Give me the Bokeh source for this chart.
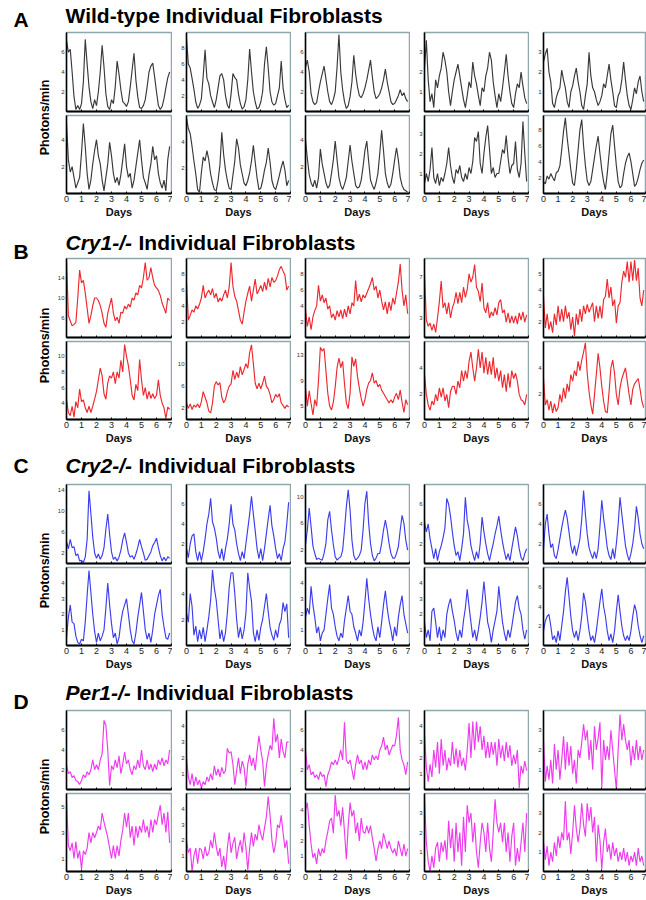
import math
import numpy as np
from bokeh.plotting import figure
from bokeh.layouts import column, row
from bokeh.models import Range1d, FixedTicker, Label
from bokeh.embed import file_html
from bokeh.resources import INLINE

# ---------------- data (photons/min, one value every 3 h) ----------------
STEP_DAYS = 0.125
DAY_TICKS = [0, 1, 2, 3, 4, 5, 6, 7]

# Panel A: wild-type
wt_1 = [7.2, 6.0, 6.3, 4.0, 1.5, 0.2, 0.6, 0.2, 0.8, 3.0, 7.3, 4.8, 2.5, 1.0, 0.3, 1.2,
        0.6, 2.0, 4.0, 6.7, 4.5, 1.8, 0.5, 0.2, 1.2, 0.8, 2.5, 5.1, 3.8, 2.2, 1.0, 0.8,
        0.5, 1.0, 2.5, 4.2, 5.9, 3.2, 1.5, 0.4, 0.3, 0.6, 1.2, 2.5, 4.0, 4.6, 4.9, 3.5,
        2.0, 0.6, 0.2, 0.5, 1.3, 2.4, 3.4, 4.0]
wt_2 = [9.2, 6.0, 5.5, 4.2, 2.8, 1.2, 0.4, 0.8, 1.6, 4.5, 7.8, 4.2, 3.5, 2.0, 1.2, 0.5,
        1.5, 3.0, 4.5, 4.8, 4.0, 2.0, 0.8, 0.4, 2.2, 4.8, 4.3, 4.0, 2.2, 1.0, 0.3, 0.6,
        1.5, 4.0, 7.9, 5.0, 2.5, 1.2, 0.3, 0.5, 1.2, 2.5, 6.0, 8.2, 5.5, 2.5, 1.2, 0.8,
        1.0, 2.0, 3.0, 6.4, 3.0, 1.5, 0.5, 0.8]
wt_3 = [4.5, 5.2, 4.0, 1.8, 1.0, 0.7, 0.9, 2.0, 3.0, 3.8, 4.6, 3.3, 2.0, 1.0, 0.7, 1.2,
        2.0, 4.5, 7.8, 4.0, 2.2, 1.0, 0.3, 0.6, 1.5, 3.0, 5.7, 3.8, 2.5, 1.6, 1.4, 1.8,
        2.4, 3.2, 4.2, 5.2, 3.5, 2.0, 1.3, 1.5, 1.8, 2.4, 3.2, 4.3, 3.0, 2.0, 1.0, 0.7,
        0.8, 1.2, 1.6, 2.2, 1.6, 1.9, 1.3, 1.0]
wt_4 = [2.2, 3.6, 1.6, 0.5, 0.9, 0.2, 1.6, 1.2, 1.8, 2.2, 3.0, 2.6, 2.0, 1.0, 0.3, 1.0,
        1.6, 2.0, 2.4, 1.8, 1.2, 0.6, 0.2, 0.8, 1.5, 1.2, 2.5, 1.8, 1.4, 0.8, 0.3, 1.2,
        1.0, 1.8, 2.2, 3.0, 2.6, 1.5, 0.8, 0.2, 0.9, 0.5, 1.2, 2.0, 2.9, 1.8, 1.0, 0.4,
        0.2, 0.9, 1.4, 1.2, 2.0, 1.3, 0.7, 0.4]
wt_5 = [2.5, 2.9, 3.2, 2.0, 1.5, 0.4, 0.2, 0.7, 1.0, 1.2, 2.1, 1.6, 1.2, 0.5, 0.2, 1.0,
        1.3, 1.8, 2.2, 1.5, 1.0, 0.3, 0.1, 0.8, 1.4, 3.0, 1.8, 1.2, 1.0, 0.6, 0.3, 0.5,
        0.8, 1.4, 1.2, 1.8, 2.4, 1.6, 1.0, 0.3, 0.2, 0.8, 1.0, 1.6, 2.5, 1.6, 0.8, 0.3,
        0.1, 0.6, 1.2, 0.9, 1.5, 1.8, 1.0, 0.5]
wt_6 = [5.2, 2.5, 1.6, 2.0, 1.2, 0.4, 0.8, 1.2, 3.0, 5.2, 3.5, 1.5, 0.3, 1.0, 2.2, 3.2,
        4.0, 2.8, 2.2, 1.0, 0.2, 1.2, 2.2, 3.8, 2.8, 1.5, 0.8, 1.2, 0.6, 1.4, 2.5, 3.7,
        2.0, 1.2, 1.5, 0.4, 1.0, 2.0, 3.0, 4.0, 2.5, 1.2, 0.8, 0.3, 1.4, 2.2, 3.5, 2.5,
        2.8, 1.5, 0.8, 0.4, 1.0, 0.2, 2.5, 3.5]
wt_7 = [5.8, 5.0, 4.6, 3.6, 2.5, 1.5, 0.3, 0.1, 1.6, 2.8, 2.5, 3.3, 2.6, 1.5, 0.8, 0.3,
        0.2, 1.0, 2.2, 4.7, 3.0, 1.8, 1.0, 0.4, 0.3, 1.4, 2.5, 4.2, 3.5, 2.2, 1.5, 0.8,
        0.6, 1.0, 1.6, 2.5, 3.7, 2.4, 1.2, 0.3, 0.4, 1.0, 1.8, 2.4, 3.5, 2.4, 1.0, 0.5,
        0.3, 0.8, 1.4, 2.0, 2.5, 1.8, 0.6, 1.0]
wt_8 = [4.0, 2.6, 1.4, 0.8, 0.5, 1.0, 0.4, 1.2, 3.3, 2.2, 1.5, 0.8, 0.4, 0.6, 1.5, 2.5,
        3.9, 2.5, 1.2, 0.6, 0.3, 0.7, 1.2, 2.4, 3.6, 2.4, 1.5, 0.6, 0.4, 0.5, 1.0, 2.0,
        3.2, 3.9, 2.4, 1.0, 0.6, 0.3, 0.8, 1.5, 3.0, 4.7, 3.2, 1.5, 0.8, 0.4, 0.7, 1.5,
        2.5, 3.4, 2.5, 1.2, 0.6, 0.3, 0.2, 0.1]
wt_9 = [0.5, 1.0, 0.6, 1.2, 2.3, 0.8, 0.5, 1.0, 0.4, 0.8, 0.6, 1.0, 1.5, 2.3, 1.4, 0.8,
        0.5, 1.2, 1.0, 1.4, 0.8, 0.6, 1.0, 0.7, 1.3, 1.0, 1.6, 2.8, 2.6, 3.1, 1.5, 1.0,
        2.0, 2.8, 3.4, 2.2, 1.0, 1.3, 0.8, 1.0, 1.0, 1.6, 2.2, 2.0, 2.9, 1.8, 1.0, 1.4,
        1.5, 2.6, 1.2, 0.8, 1.5, 3.6, 2.0, 0.6]
wt_10 = [1.5, 1.2, 2.2, 1.8, 2.5, 2.0, 1.6, 2.6, 2.8, 3.5, 5.5, 7.8, 9.5, 7.0, 5.0, 3.0,
         1.3, 1.0, 3.0, 5.5, 8.0, 9.3, 6.0, 3.5, 1.6, 1.0, 1.5, 3.0, 4.5, 6.0, 7.2, 5.0,
         3.0, 1.5, 0.5, 2.5, 5.0, 7.5, 8.6, 6.0, 3.5, 1.5, 0.7, 1.0, 2.5, 3.8, 4.6, 5.1,
         4.0, 2.5, 0.9, 1.2, 2.0, 3.0, 3.8, 4.2]
wt_ylims = [(0, 8), (0, 10), (0, 8), (0, 4), (0, 4),
            (0, 5.8), (0, 6), (0, 5.8), (0, 3.9), (0, 9.8)]
wt_yticks = [[2, 4, 6], [2, 4, 6, 8], [2, 4, 6], [1, 2, 3], [1, 2, 3],
             [2, 4], [2, 4], [2, 4], [1, 2, 3], [2, 4, 6, 8]]

# Panel B: Cry1-/-
cry1_1 = [17.5, 6.5, 5.5, 4.5, 4.8, 5.2, 10.0, 15.5, 13.0, 13.5, 11.0, 8.0, 5.0, 6.5, 8.5, 10.0,
          10.0, 9.5, 8.5, 7.0, 5.0, 4.2, 7.0, 8.5, 10.0, 7.0, 5.5, 6.2, 5.0, 7.2, 7.0, 8.4,
          7.8, 8.8, 8.2, 10.0, 9.6, 11.0, 10.6, 12.5, 12.0, 14.0, 17.0, 13.5, 14.0, 16.0, 14.0, 12.5,
          12.0, 11.5, 10.5, 9.0, 8.0, 7.0, 10.0, 9.5]
cry1_2 = [7.0, 2.2, 2.8, 3.5, 3.2, 4.0, 3.6, 4.2, 5.0, 6.6, 5.0, 5.6, 6.0, 5.4, 6.2, 5.0,
          5.6, 4.5, 5.0, 4.6, 5.4, 6.0, 5.0, 6.4, 9.5, 6.5, 5.2, 4.6, 3.4, 2.2, 1.7, 3.2,
          4.6, 5.6, 6.5, 4.6, 6.0, 7.4, 5.5, 6.0, 6.6, 5.8, 7.0, 6.0, 7.5, 6.4, 7.6, 7.0,
          7.2, 7.8, 8.6, 9.0, 8.4, 7.9, 6.0, 6.5]
cry1_3 = [3.5, 1.4, 2.6, 1.0, 2.6, 3.4, 4.0, 6.6, 4.6, 5.4, 4.4, 5.0, 3.6, 4.0, 2.5, 3.0,
          2.2, 3.4, 2.6, 3.5, 2.4, 3.6, 2.6, 4.0, 3.0, 4.4, 4.0, 7.2, 4.6, 5.5, 4.5, 5.4,
          5.0, 5.6, 6.2, 6.8, 7.6, 6.0, 6.5, 5.0, 6.0, 4.6, 3.5, 4.5, 3.0, 4.5, 3.4, 5.0,
          4.2, 5.6, 7.0, 9.3, 6.0, 4.0, 5.4, 3.0]
cry1_4 = [7.2, 2.8, 2.2, 2.5, 1.8, 2.4, 1.6, 3.0, 4.6, 6.6, 4.0, 4.5, 3.4, 4.5, 3.0, 4.0,
          4.5, 5.5, 4.4, 5.5, 4.5, 6.0, 5.0, 5.8, 7.3, 6.5, 7.0, 8.2, 6.0, 5.6, 4.6, 6.4,
          4.0, 3.5, 4.5, 3.0, 3.6, 3.2, 4.0, 3.3, 4.5, 4.8, 3.5, 3.8, 2.6, 3.5, 2.5, 3.2,
          2.5, 3.2, 2.4, 3.5, 2.8, 3.6, 2.6, 3.3]
cry1_5 = [3.6, 1.6, 2.5, 1.5, 2.0, 1.3, 2.5, 1.8, 3.0, 2.0, 2.8, 2.0, 3.0, 2.2, 2.6, 1.5,
          2.3, 1.1, 2.5, 1.8, 2.8, 2.0, 3.0, 2.5, 3.1, 2.6, 2.9, 3.2, 2.0, 3.0, 2.2, 3.0,
          2.2, 3.4, 3.6, 4.7, 3.5, 4.2, 3.0, 3.4, 1.9, 3.0, 3.2, 4.5, 5.2, 4.8, 5.8, 4.5,
          5.8, 4.6, 5.9, 4.6, 5.4, 3.5, 3.0, 4.0]
cry1_6 = [4.5, 2.8, 2.4, 3.6, 2.2, 4.2, 3.4, 5.8, 4.2, 4.4, 3.4, 2.8, 3.6, 2.8, 3.6, 4.5,
          5.5, 7.0, 8.5, 7.5, 5.2, 4.5, 6.6, 7.5, 7.2, 8.0, 6.5, 8.0, 7.2, 9.5, 8.0, 11.5,
          10.0, 8.8, 7.0, 5.0, 4.4, 6.4, 5.6, 9.6, 7.0, 5.0, 6.0, 4.5, 5.5, 4.6, 5.2, 4.6,
          5.0, 7.0, 5.0, 4.0, 3.4, 2.0, 3.5, 3.2]
cry1_7 = [3.0, 2.0, 2.8, 1.8, 2.6, 2.2, 2.8, 2.1, 3.2, 5.0, 4.0, 3.0, 1.5, 1.2, 3.0, 6.0,
          6.8, 6.2, 6.6, 4.0, 3.0, 3.6, 5.0, 6.0, 6.4, 8.8, 7.2, 8.5, 7.5, 9.5, 8.0, 9.0,
          10.0, 9.2, 12.0, 13.4, 10.0, 6.5, 5.5, 6.5, 5.5, 6.5, 7.8, 6.0, 5.5, 4.5, 3.0, 3.6,
          4.5, 4.0, 4.6, 3.0, 2.5, 2.0, 2.6, 2.2]
cry1_8 = [7.8, 5.0, 7.4, 5.4, 3.6, 6.0, 5.0, 9.0, 14.2, 13.6, 14.0, 10.5, 7.0, 5.0, 4.4, 5.6,
          8.0, 11.0, 12.5, 11.0, 12.0, 8.5, 5.5, 4.6, 7.0, 12.7, 11.2, 12.4, 9.6, 7.8, 6.2, 5.0,
          6.0, 7.6, 8.6, 9.0, 10.2, 8.6, 9.0, 8.0, 8.4, 7.5, 7.0, 6.5, 6.0, 5.5, 6.0, 5.5,
          6.4, 7.0, 6.0, 7.5, 5.6, 4.0, 6.0, 5.2]
cry1_9 = [3.5, 2.0, 1.2, 0.8, 1.5, 1.2, 2.0, 1.5, 2.5, 1.8, 2.5, 1.5, 2.0, 1.0, 2.2, 2.6,
          2.6, 2.0, 3.0, 2.5, 3.8, 3.0, 3.8, 3.2, 4.5, 5.2, 4.0, 3.0, 4.0, 5.4, 4.0, 5.2,
          3.6, 4.8, 3.5, 4.5, 3.5, 4.8, 3.2, 4.0, 3.0, 3.8, 2.5, 3.5, 2.2, 3.6, 2.5, 3.8,
          3.2, 3.6, 3.0, 2.0, 1.6, 1.5, 1.2, 2.0]
cry1_10 = [3.2, 1.2, 1.6, 0.8, 1.5, 0.6, 1.3, 0.7, 1.0, 2.0, 1.4, 2.5, 1.7, 2.8, 2.2, 3.5,
           3.0, 3.8, 3.4, 4.5, 3.8, 4.6, 5.2, 5.9, 3.6, 2.2, 1.2, 0.5, 2.0, 3.5, 5.1, 4.0,
           2.6, 1.5, 0.7, 0.6, 2.2, 4.0, 4.6, 3.6, 2.0, 1.2, 2.5, 3.2, 3.6, 4.0, 3.0, 2.0,
           1.2, 2.4, 2.8, 3.0, 3.2, 2.4, 1.5, 1.0]
cry1_ylims = [(2.2, 17.8), (0, 10), (0, 10), (1.1, 8.8), (1, 6),
              (1.9, 11.9), (0, 14), (2.9, 15.1), (0.1, 6), (0.1, 6)]
cry1_yticks = [[6, 10, 14], [2, 4, 6, 8], [2, 4, 6, 8], [3, 5, 7], [2, 3, 4, 5],
               [4, 6, 8, 10], [2, 6, 10], [5, 9, 13], [2, 4], [2, 4]]

# Panel C: Cry2-/-
cry2_1 = [4.2, 2.8, 4.6, 3.0, 3.2, 1.5, 1.8, 0.5, 0.6, 0.2, 1.2, 4.5, 13.8, 9.5, 5.0, 2.0,
          1.0, 1.8, 0.8, 1.5, 3.0, 6.5, 9.4, 5.5, 2.2, 0.8, 1.2, 0.5, 1.2, 2.5, 4.5, 5.8,
          4.0, 2.0, 1.2, 1.5, 0.8, 1.8, 3.0, 4.6, 3.2, 2.0, 0.6, 0.8, 1.5, 2.2, 3.4, 4.0,
          4.8, 3.0, 1.5, 0.5, 1.2, 0.5, 1.3, 1.0]
cry2_2 = [1.5, 0.6, 2.0, 2.8, 3.0, 1.2, 0.3, 1.2, 0.3, 1.2, 2.5, 4.0, 5.0, 6.6, 4.2, 3.6,
          2.6, 1.2, 0.5, 1.5, 0.3, 1.5, 2.5, 4.0, 6.0, 4.0, 3.4, 2.0, 1.0, 0.3, 1.2, 0.5,
          2.0, 3.5, 5.0, 6.8, 5.0, 3.3, 1.5, 0.5, 1.5, 0.3, 1.5, 3.0, 4.5, 5.9, 3.8, 2.8,
          1.5, 0.5, 1.0, 0.3, 1.5, 2.2, 4.0, 6.2]
cry2_3 = [2.8, 5.0, 8.3, 5.5, 2.6, 1.5, 0.6, 0.8, 0.6, 0.5, 1.5, 3.0, 6.5, 7.8, 5.0, 2.8,
          1.0, 0.5, 0.8, 1.0, 2.0, 5.0, 8.5, 11.0, 8.0, 3.5, 1.2, 0.5, 0.8, 1.2, 2.0, 5.0,
          9.0, 10.8, 6.0, 3.0, 1.2, 0.4, 0.8, 1.5, 1.5, 3.0, 5.0, 6.5, 5.0, 3.0, 1.5, 0.8,
          0.8, 1.5, 2.5, 5.0, 7.2, 6.0, 3.5, 2.0]
cry2_4 = [4.2, 3.2, 4.0, 2.5, 1.5, 0.5, 1.5, 0.3, 1.2, 1.8, 2.6, 3.6, 6.6, 6.0, 4.8, 3.2,
          1.8, 0.8, 1.2, 0.3, 1.5, 3.0, 6.7, 4.4, 3.4, 1.8, 1.0, 0.3, 1.2, 0.5, 2.0, 4.7,
          3.2, 2.0, 1.0, 0.3, 1.2, 2.0, 3.0, 3.8, 4.8, 3.4, 2.2, 1.2, 0.4, 1.0, 0.3, 1.5,
          2.6, 3.7, 2.8, 1.5, 0.6, 0.3, 1.0, 1.5]
cry2_5 = [1.5, 4.0, 5.0, 3.0, 1.6, 2.0, 0.8, 0.5, 1.4, 2.5, 3.6, 4.6, 5.4, 4.6, 3.2, 1.8,
          1.0, 1.8, 0.8, 1.6, 2.5, 4.5, 7.4, 5.0, 3.0, 1.6, 1.0, 0.5, 1.2, 0.5, 1.5, 3.8,
          6.4, 4.6, 3.2, 1.6, 0.8, 0.4, 1.5, 0.5, 2.0, 4.0, 6.7, 5.0, 3.4, 1.8, 0.9, 0.3,
          1.0, 2.0, 3.5, 5.8, 4.6, 3.0, 2.0, 1.5]
cry2_6 = [0.5, 1.8, 2.6, 1.5, 1.4, 0.6, 0.2, 0.1, 0.4, 0.3, 1.5, 3.2, 4.8, 3.4, 2.0, 0.9,
          0.2, 0.8, 0.3, 0.6, 1.0, 2.4, 4.0, 2.6, 1.4, 0.5, 0.8, 0.1, 0.5, 1.5, 2.2, 2.6,
          3.0, 2.0, 1.0, 0.3, 0.1, 0.8, 1.8, 2.6, 3.4, 2.2, 1.0, 0.4, 0.8, 0.2, 1.0, 2.0,
          2.6, 3.2, 3.6, 2.0, 1.2, 0.5, 0.4, 0.8]
cry2_7 = [2.5, 1.8, 4.0, 3.0, 0.8, 1.5, 0.3, 1.2, 0.5, 1.4, 0.3, 1.2, 2.2, 3.5, 5.8, 4.4,
          3.5, 2.0, 0.5, 1.2, 0.3, 1.0, 2.5, 4.5, 5.6, 5.6, 4.0, 2.0, 0.6, 1.4, 0.5, 1.2,
          2.5, 5.6, 4.4, 3.4, 1.0, 0.3, 1.2, 0.4, 1.4, 2.0, 3.0, 4.0, 2.6, 1.4, 0.8, 0.4,
          1.2, 0.6, 1.6, 2.0, 3.3, 2.6, 3.2, 0.6]
cry2_8 = [1.8, 2.4, 2.0, 3.8, 2.6, 1.8, 0.8, 1.2, 0.3, 0.8, 1.0, 2.0, 3.0, 3.9, 2.4, 2.0,
          1.2, 0.6, 0.3, 0.8, 0.5, 1.6, 2.4, 3.2, 2.2, 2.0, 1.2, 0.8, 0.3, 1.0, 0.6, 1.5,
          2.8, 4.3, 3.0, 2.0, 1.2, 0.6, 0.3, 1.2, 0.5, 1.5, 2.6, 3.5, 2.4, 1.6, 1.0, 0.3,
          1.2, 0.6, 1.8, 2.6, 3.2, 2.0, 1.4, 0.8]
cry2_9 = [1.5, 0.5, 1.0, 0.3, 2.2, 2.4, 1.5, 0.5, 1.2, 0.3, 1.0, 0.5, 2.0, 2.6, 3.0, 2.2,
          1.6, 0.8, 0.3, 1.0, 0.5, 1.6, 2.4, 3.6, 2.5, 1.5, 0.5, 1.0, 0.3, 1.0, 1.8, 2.8,
          4.1, 2.8, 1.5, 1.0, 0.2, 1.0, 1.6, 2.2, 3.8, 2.6, 1.5, 0.8, 0.3, 1.0, 0.5, 1.2,
          2.0, 2.8, 3.2, 2.4, 2.0, 1.0, 0.4, 1.0]
cry2_10 = [1.5, 2.5, 3.0, 3.2, 2.0, 0.6, 1.0, 0.3, 1.5, 0.5, 2.0, 3.5, 5.5, 7.0, 5.0, 3.0,
           1.5, 0.8, 1.5, 0.5, 1.5, 3.0, 5.4, 4.5, 3.0, 1.5, 0.5, 1.0, 0.3, 1.5, 3.0, 4.5,
           5.8, 4.0, 3.0, 1.5, 0.5, 1.2, 0.3, 1.5, 3.5, 5.2, 3.5, 2.0, 1.0, 0.5, 1.0, 0.5,
           1.5, 3.0, 4.2, 3.5, 2.0, 1.0, 0.3, 1.0]
cry2_ylims = [(0, 15), (0, 8), (0, 11.8), (0, 8), (0, 8),
              (0, 5), (0, 6), (0, 5), (0, 5), (0, 8)]
cry2_yticks = [[2, 6, 10, 14], [2, 4, 6], [2, 6, 10], [2, 4, 6], [2, 4, 6],
               [1, 2, 3, 4], [2, 4], [1, 2, 3, 4], [1, 2, 3, 4], [2, 4, 6]]

# Panel D: Per1-/-
per1_1 = [2.5, 1.6, 1.8, 1.2, 1.4, 0.9, 0.8, 0.5, 0.9, 1.5, 1.2, 1.8, 1.5, 2.0, 3.0, 2.0,
          2.5, 2.0, 3.0, 3.6, 7.0, 6.5, 4.0, 0.4, 2.4, 2.0, 3.0, 2.2, 3.4, 1.6, 2.6, 3.8,
          2.6, 3.0, 2.0, 1.5, 2.4, 2.0, 3.0, 2.2, 4.0, 2.4, 2.0, 3.0, 2.0, 2.6, 1.8, 2.6,
          2.0, 3.0, 2.5, 3.2, 2.4, 3.0, 2.6, 4.0]
per1_2 = [2.0, 0.8, 0.3, 1.0, 0.2, 0.8, 0.3, 0.6, 0.1, 0.5, 0.3, 0.8, 0.5, 1.0, 0.6, 1.5,
          0.9, 1.3, 0.8, 1.4, 1.0, 1.2, 2.6, 2.3, 2.4, 1.6, 0.3, 1.2, 2.0, 1.0, 1.8, 1.4,
          0.2, 1.6, 2.2, 1.5, 2.0, 1.2, 2.4, 3.4, 2.5, 1.8, 0.2, 1.5, 2.2, 2.8, 2.5, 4.5,
          3.0, 3.5, 2.0, 3.2, 2.4, 2.0, 3.0, 3.0]
per1_3 = [4.0, 2.0, 2.5, 1.5, 1.8, 1.2, 1.5, 1.0, 1.8, 1.3, 1.5, 0.3, 1.5, 2.0, 2.8, 2.5,
          3.0, 2.5, 3.2, 4.0, 3.0, 6.8, 3.0, 2.6, 3.0, 2.0, 1.0, 2.5, 3.5, 2.6, 3.0, 2.0,
          2.8, 2.0, 3.0, 2.5, 3.5, 3.0, 3.4, 3.0, 4.0, 4.4, 5.3, 4.0, 4.5, 3.5, 4.0, 4.5,
          4.4, 5.5, 7.3, 4.0, 3.0, 2.5, 1.5, 2.8]
per1_4 = [3.5, 1.4, 0.5, 1.6, 0.8, 2.5, 1.4, 3.0, 1.0, 3.2, 1.5, 2.5, 1.2, 2.0, 1.5, 3.0,
          1.6, 2.6, 1.4, 2.5, 1.5, 2.0, 1.2, 2.5, 4.2, 2.0, 4.3, 2.5, 4.3, 3.0, 4.0, 2.5,
          3.4, 2.0, 3.0, 2.0, 3.0, 2.2, 3.0, 1.5, 3.2, 2.0, 2.8, 1.8, 3.0, 2.0, 2.8, 1.5,
          2.2, 1.6, 2.5, 0.1, 1.5, 1.0, 1.8, 1.2]
per1_5 = [2.5, 0.4, 1.2, 0.5, 1.5, 0.3, 2.3, 1.0, 2.0, 0.5, 1.5, 2.7, 1.0, 2.4, 1.2, 2.2,
          0.8, 1.5, 0.3, 2.0, 1.6, 2.4, 3.3, 2.5, 3.0, 1.5, 2.5, 1.0, 3.2, 2.0, 2.6, 3.4,
          0.1, 2.5, 1.5, 2.2, 1.5, 3.0, 2.0, 1.0, 0.0, 2.0, 3.8, 2.5, 3.3, 2.5, 2.0, 2.5,
          1.2, 2.2, 1.5, 2.5, 1.5, 2.2, 1.5, 2.0]
per1_6 = [5.5, 2.0, 1.6, 2.2, 1.0, 2.3, 1.0, 1.6, 0.2, 1.6, 1.3, 1.8, 3.0, 2.2, 3.0, 2.6,
          3.0, 3.5, 3.2, 4.5, 3.8, 3.2, 2.6, 1.8, 1.0, 2.0, 1.0, 2.0, 1.2, 2.4, 3.2, 4.5,
          3.4, 4.5, 2.6, 3.5, 2.0, 3.5, 2.6, 3.5, 3.0, 4.0, 3.0, 3.5, 2.6, 4.0, 3.0, 4.0,
          3.6, 4.4, 5.1, 3.6, 4.5, 3.0, 4.6, 2.2]
per1_7 = [2.0, 1.2, 1.5, 0.0, 1.0, 1.5, 0.5, 1.5, 1.4, 0.8, 1.6, 1.0, 1.2, 2.0, 1.5, 2.5,
          1.6, 1.0, 1.5, 0.3, 1.0, 0.1, 1.5, 2.5, 1.2, 1.8, 2.2, 0.8, 1.5, 2.0, 1.2, 2.5,
          1.5, 0.1, 1.5, 2.5, 1.6, 2.4, 2.0, 3.0, 2.4, 2.0, 2.8, 3.5, 4.8, 3.6, 2.0, 1.2,
          1.8, 3.0, 2.8, 3.6, 2.5, 1.5, 2.0, 0.5]
per1_8 = [4.0, 4.5, 3.0, 1.8, 0.9, 1.2, 0.5, 1.5, 1.0, 1.5, 1.2, 2.0, 2.6, 3.3, 3.5, 2.5,
          5.0, 3.6, 4.0, 3.0, 4.2, 2.6, 0.8, 3.0, 4.5, 3.6, 4.0, 2.5, 3.2, 2.0, 3.5, 2.6,
          2.5, 3.0, 2.5, 3.0, 2.2, 1.5, 0.7, 1.5, 2.0, 1.5, 2.5, 2.0, 1.5, 2.0, 1.5, 1.2,
          1.5, 1.0, 2.0, 1.5, 1.0, 1.8, 1.0, 1.5]
per1_9 = [3.8, 1.5, 0.5, 0.0, 0.8, 0.2, 1.2, 1.5, 0.5, 1.5, 1.0, 1.6, 0.6, 2.6, 1.2, 2.2,
          0.5, 2.5, 1.0, 2.0, 0.3, 2.8, 1.0, 3.4, 2.5, 3.0, 1.5, 2.5, 1.0, 0.2, 1.5, 2.5,
          2.0, 1.0, 2.5, 1.2, 0.5, 2.0, 3.7, 2.5, 2.0, 2.5, 1.5, 2.5, 1.0, 2.0, 0.5, 1.8,
          2.5, 0.3, 1.2, 0.5, 1.5, 2.5, 1.0, 3.0]
per1_10 = [1.5, 0.6, 1.3, 0.3, 1.0, 0.5, 1.5, 0.8, 1.8, 1.2, 2.0, 1.6, 3.6, 1.6, 2.0, 0.9,
           2.0, 3.4, 2.2, 1.5, 2.2, 3.5, 2.4, 1.8, 3.5, 2.6, 3.3, 2.0, 2.8, 0.5, 2.4, 1.6,
           0.1, 1.5, 2.2, 1.0, 1.4, 0.6, 1.5, 0.8, 1.2, 0.5, 1.0, 0.6, 1.2, 0.5, 1.0, 0.3,
           0.8, 0.5, 1.0, 0.3, 1.2, 0.5, 0.8, 0.3]
per1_ylims = [(0, 8), (0, 5), (0, 8), (0, 5), (0, 4),
              (0, 6), (0, 5), (0, 5.1), (0, 4), (0, 4)]
per1_yticks = [[2, 4, 6], [1, 2, 3, 4], [2, 4, 6], [1, 2, 3, 4], [1, 2, 3],
               [1, 3, 5], [1, 2, 3, 4], [1, 2, 3, 4], [1, 2, 3], [1, 2, 3]]

Y_LABEL = "Photons/min"
X_LABEL = "Days"

# ---------------- styling / layout ----------------
FONT = "Liberation Sans"
FRAME_EDGE = "#8fa8ae"
LEFT_W = 52
CELL_W = [120, 119, 119, 119, 117]
RIGHT_W = sum(CELL_W)
TOP_H = 83
BOT_H = 106


def make_cell(vals, ylim, yticks, color, bottom, width):
    h = BOT_H if bottom else TOP_H
    p = figure(width=width, height=h, toolbar_location=None, output_backend="svg",
               title=None, x_range=Range1d(0, 7), y_range=Range1d(ylim[0], ylim[1]),
               min_border_left=14, min_border_right=1, min_border_top=1,
               min_border_bottom=(26 if bottom else 3))
    t = np.arange(len(vals)) * STEP_DAYS
    p.line(t, vals, line_color=color, line_width=1.15, line_alpha=0.95)
    p.xgrid.grid_line_color = None
    p.ygrid.grid_line_color = None
    p.outline_line_color = FRAME_EDGE
    p.outline_line_width = 1.5
    p.background_fill_color = "white"
    p.border_fill_color = "white"

    ya = p.yaxis[0]
    ya.ticker = FixedTicker(ticks=yticks)
    ya.axis_line_color = "black"
    ya.axis_line_width = 1.5
    ya.major_tick_out = 0
    ya.major_tick_in = 0
    ya.minor_tick_out = 0
    ya.minor_tick_in = 0
    ya.major_label_text_font = FONT
    ya.major_label_text_font_size = "6px"
    ya.major_label_text_color = "#333333"
    ya.major_label_standoff = 2

    xa = p.xaxis[0]
    xa.axis_line_color = "black"
    xa.axis_line_width = 2
    xa.major_tick_out = 0
    xa.minor_tick_out = 0
    if bottom:
        xa.ticker = FixedTicker(ticks=DAY_TICKS)
        xa.major_tick_in = 2
        xa.minor_tick_in = 0
        xa.major_label_text_font = FONT
        xa.major_label_text_font_size = "9px"
        xa.major_label_text_color = "#222222"
        xa.major_label_standoff = 2
        xa.axis_label = X_LABEL
        xa.axis_label_text_font = FONT
        xa.axis_label_text_font_size = "11px"
        xa.axis_label_text_font_style = "bold"
        xa.axis_label_text_color = "#111111"
        xa.axis_label_standoff = 1
    else:
        # tick marks only, no labels on the upper row
        xa.ticker = FixedTicker(ticks=[], minor_ticks=DAY_TICKS)
        xa.major_tick_in = 0
        xa.minor_tick_in = 2
        xa.major_label_standoff = 0
    return p


def make_header(parts, h, mid_y):
    p = figure(width=RIGHT_W, height=h, toolbar_location=None, output_backend="svg",
               title=None, x_range=Range1d(0, RIGHT_W), y_range=Range1d(0, h),
               x_axis_type=None, y_axis_type=None, min_border=0)
    p.outline_line_color = None
    for txt, x, style in parts:
        p.add_layout(Label(x=x, y=mid_y, text=txt, text_font=FONT,
                           text_font_size="21px", text_font_style=style,
                           text_baseline="middle", text_color="black"))
    return p


def make_left(letter, h, letter_y, ylab_y):
    p = figure(width=LEFT_W, height=h, toolbar_location=None, output_backend="svg",
               title=None, x_range=Range1d(0, LEFT_W), y_range=Range1d(0, h),
               x_axis_type=None, y_axis_type=None, min_border=0)
    p.outline_line_color = None
    p.add_layout(Label(x=13, y=letter_y, text=letter, text_font=FONT,
                       text_font_size="21px", text_font_style="bold",
                       text_baseline="middle", text_color="black"))
    p.add_layout(Label(x=44, y=ylab_y, text=Y_LABEL, angle=math.pi / 2,
                       text_font=FONT, text_font_size="12.5px", text_font_style="bold",
                       text_align="center", text_baseline="middle", text_color="black"))
    return p


panels = [
    dict(letter="A", parts=[("Wild-type Individual Fibroblasts", 13, "bold")],
         h=31, mid_y=16, letter_y=201.5, ylab_y=103, color="#2e2e2e",
         traces=[wt_1, wt_2, wt_3, wt_4, wt_5, wt_6, wt_7, wt_8, wt_9, wt_10],
         ylims=wt_ylims, yticks=wt_yticks),
    dict(letter="B", parts=[("Cry1-/-", 13, "bold italic"), ("Individual Fibroblasts", 86, "bold")],
         h=37, mid_y=15, letter_y=195.5, ylab_y=101, color="#ec1c24",
         traces=[cry1_1, cry1_2, cry1_3, cry1_4, cry1_5, cry1_6, cry1_7, cry1_8, cry1_9, cry1_10],
         ylims=cry1_ylims, yticks=cry1_yticks),
    dict(letter="C", parts=[("Cry2-/-", 13, "bold italic"), ("Individual Fibroblasts", 86, "bold")],
         h=37, mid_y=18.5, letter_y=207, ylab_y=102, color="#3333ee",
         traces=[cry2_1, cry2_2, cry2_3, cry2_4, cry2_5, cry2_6, cry2_7, cry2_8, cry2_9, cry2_10],
         ylims=cry2_ylims, yticks=cry2_yticks),
    dict(letter="D", parts=[("Per1-/-", 13, "bold italic"), ("Individual Fibroblasts", 84, "bold")],
         h=37, mid_y=17, letter_y=197.5, ylab_y=102, color="#ee30ee",
         traces=[per1_1, per1_2, per1_3, per1_4, per1_5, per1_6, per1_7, per1_8, per1_9, per1_10],
         ylims=per1_ylims, yticks=per1_yticks),
]

blocks = []
for pn in panels:
    header = make_header(pn["parts"], pn["h"], pn["mid_y"])
    rows = []
    for r in range(2):
        cells = []
        for c in range(5):
            k = r * 5 + c
            cells.append(make_cell(pn["traces"][k], pn["ylims"][k], pn["yticks"][k],
                                   pn["color"], r == 1, CELL_W[c]))
        rows.append(row(*cells, spacing=0))
    right = column(header, *rows, spacing=0)
    left = make_left(pn["letter"], pn["h"] + TOP_H + BOT_H, pn["letter_y"], pn["ylab_y"])
    blocks.append(row(left, right, spacing=0))

layout = column(*blocks, spacing=0)

open("out.html", "w").write(file_html(layout, INLINE))
